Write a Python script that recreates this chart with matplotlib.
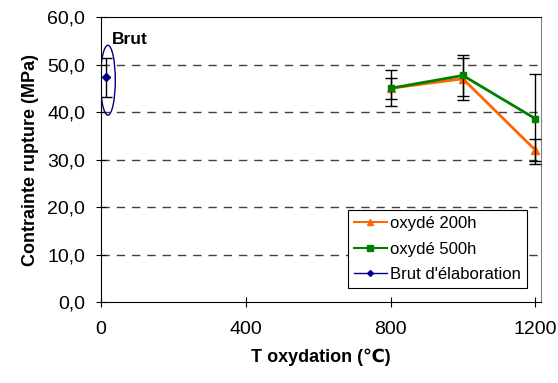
import numpy as np
import matplotlib.pyplot as plt
from matplotlib.patches import Ellipse
from matplotlib.lines import Line2D
from matplotlib.ticker import FuncFormatter

plt.rcParams['font.family'] = ['Liberation Sans', 'DejaVu Sans']

# data
T_ox = [800, 1000, 1200]
s_200h = [45.0, 47.0, 32.0]
e_200h = [2.2, 4.4, 2.3]
s_500h = [45.0, 47.7, 38.6]
e_500h = [3.8, 4.3, 9.5]
T_brut = [15]
s_brut = [47.3]
e_brut = [4.1]

c200, c500, cbrut = '#ff6600', '#008000', '#000080'

fig = plt.figure(figsize=(5.58, 3.83), dpi=100)
ax = fig.add_axes([0.181, 0.2115, 0.788, 0.744])

ax.errorbar(T_ox, s_200h, yerr=e_200h, color=c200, marker='^', ms=6,
            lw=2, ecolor='black', elinewidth=1, capsize=4, zorder=3)
ax.errorbar(T_ox, s_500h, yerr=e_500h, color=c500, marker='s', ms=5,
            lw=2, ecolor='black', elinewidth=1, capsize=4, zorder=4)
ax.errorbar(T_brut, s_brut, yerr=e_brut, color=cbrut, marker='D', ms=4,
            lw=1, ecolor='black', elinewidth=1, capsize=4, zorder=4)

# ellipse around the as-received point
ax.add_patch(Ellipse((19, 46.7), 41, 14.7, fill=False, ec=cbrut, lw=1))
ax.text(30, 54.3, 'Brut', fontsize=12.5, fontweight='bold')

ax.set_xlim(0, 1215)
ax.set_ylim(0, 60)
ax.set_xticks([0, 400, 800, 1200])
ax.set_yticks(np.arange(0, 61, 10))
ax.yaxis.set_major_formatter(FuncFormatter(lambda v, p: f'{v:.1f}'.replace('.', ',')))
ax.tick_params(direction='inout', length=7, labelsize=14)
ax.tick_params(axis='x', pad=10)
ax.tick_params(axis='y', pad=8)
for y in range(10, 60, 10):
    ax.axhline(y, color='#404040', ls=(0, (6, 5)), lw=1, zorder=1)

ax.spines['right'].set_color('#808080')

ax.set_xlabel('T oxydation (℃)', fontsize=13, fontweight='bold', labelpad=8)
ax.set_ylabel('Contrainte rupture (MPa)', fontsize=13, fontweight='bold', labelpad=6)

handles = [
    Line2D([], [], color=c200, marker='^', ms=5, lw=1.5),
    Line2D([], [], color=c500, marker='s', ms=4, lw=1.5),
    Line2D([], [], color=cbrut, marker='D', ms=3, lw=1),
]
labels = ['oxydé 200h', 'oxydé 500h', "Brut d'élaboration"]
leg = ax.legend(handles, labels, loc='lower right', fontsize=12, fancybox=False,
                framealpha=1, edgecolor='black', handlelength=2.0, borderpad=0.35,
                labelspacing=0.62, handletextpad=0.2, borderaxespad=0,
                bbox_to_anchor=(0.969, 0.05))
leg.get_frame().set_linewidth(0.8)

fig.savefig('out.png', dpi=100)
